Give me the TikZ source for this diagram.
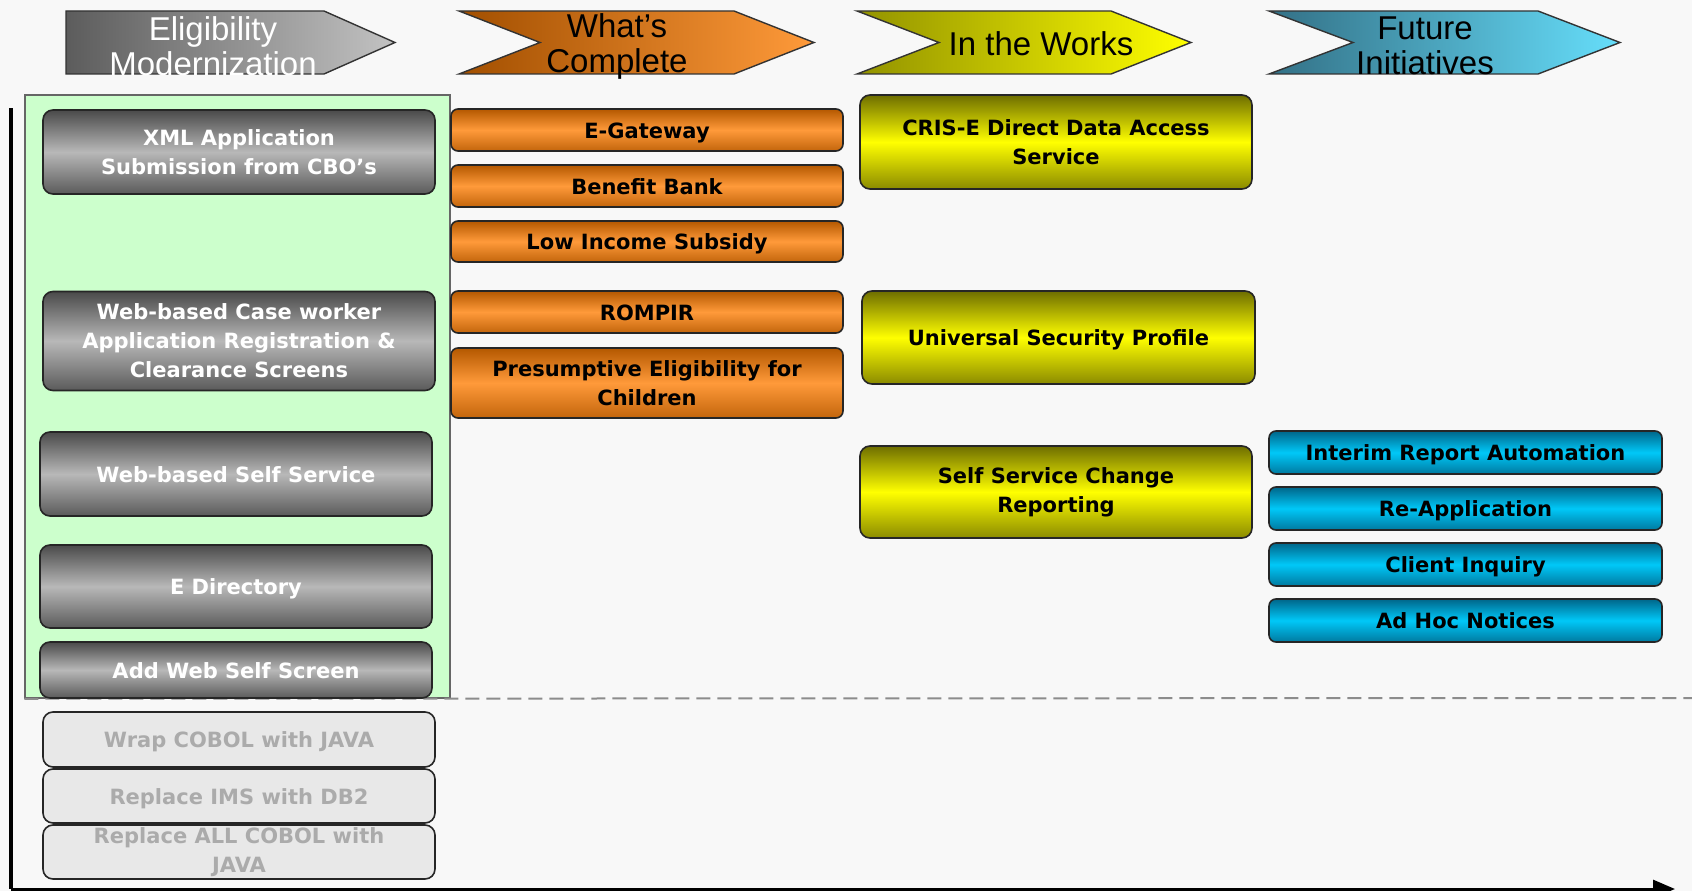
\documentclass[tikz,border=0pt]{standalone}
\usepackage{fontspec}
\setmainfont{Liberation Sans}
\newfontfamily\boxfont{DejaVu Sans}
\usetikzlibrary{arrows.meta}

\definecolor{paper}{HTML}{F8F8F8}
\definecolor{panelgreen}{HTML}{CCFFCC}
\definecolor{grayTop}{HTML}{4A4A4A}
\definecolor{grayMid}{HTML}{B8B8B8}
\definecolor{orangeTop}{HTML}{B45800}
\definecolor{orangeMid}{HTML}{FF9A3A}
\definecolor{yellowTop}{HTML}{6E6E00}
\definecolor{yellowMid}{HTML}{FFFF00}
\definecolor{cyanTop}{HTML}{00668A}
\definecolor{cyanMid}{HTML}{00C8F8}
\definecolor{oldFill}{HTML}{E8E8E8}
\definecolor{oldText}{HTML}{ABABAB}

\newlength{\px}
\setlength{\px}{1pt}

\begin{document}
\begin{tikzpicture}[x=\px,y=-\px,
  box/.style={rectangle,rounded corners=10\px,draw=black!85,line width=1.6\px,inner sep=0,align=center,font=\boxfont\bfseries\fontsize{21}{29}\selectfont},
  one line/.style={text height=16\px,text depth=0\px},
  gray box/.style={box,text=white,top color=grayTop,bottom color=grayTop!85!grayMid,middle color=grayMid},
  old box/.style={box,fill=oldFill,text=oldText},
  orange box/.style={box,one line,rounded corners=7\px,top color=orangeTop,bottom color=orangeTop!80!orangeMid,middle color=orangeMid},
  yellow box/.style={box,top color=yellowTop,bottom color=yellowTop!80!yellowMid,middle color=yellowMid},
  cyan box/.style={box,one line,rounded corners=7\px,top color=cyanTop,bottom color=cyanTop!80!cyanMid,middle color=cyanMid},
  chevron/.style={draw=black!80,line width=1.4\px},
  head/.style={align=center,inner sep=0,font=\fontsize{33}{35}\selectfont},
  panel/.style={rectangle,draw=black!60,line width=1.5\px,fill=panelgreen,inner sep=0},
  axis/.style={draw=black,line width=4\px}]
  \useasboundingbox (0,0) rectangle (1692,891);
  \fill[paper] (0,0) rectangle (1692,891);

  % column headings
  \path[chevron,left color=grayTop!90,right color=grayMid!85] (66,11) -- (324,11) -- (395,42.5) -- (324,74) -- (66,74) -- cycle;
  \path[chevron,left color=orangeTop!90!black,right color=orangeMid] (459,11) -- (734,11) -- (814,42.5) -- (734,74) -- (459,74) -- (540,42.5) -- cycle;
  \path[chevron,left color=yellowTop!75!yellowMid,right color=yellowMid] (857,11) -- (1111,11) -- (1191,42.5) -- (1111,74) -- (857,74) -- (939,42.5) -- cycle;
  \path[chevron,left color=cyanTop!60!gray,right color=cyanMid!60!white] (1269,11) -- (1538,11) -- (1620,42.5) -- (1538,74) -- (1269,74) -- (1353,42.5) -- cycle;
  \node[head,text=white] (h1) at (213,46) {Eligibility\\Modernization};
  \node[head] (h2) at (617,46) {What’s\\Complete};
  \node[head] (h3) at (1041,44) {In the Works};
  \node[head] (h4) at (1425,46) {Future\\Initiatives};

  % green panel and separator
  \node[panel,minimum width=425\px,minimum height=603\px] (root) at (237.5,396.5) {};
  \coordinate (cut) at (1692,698);
  \draw[draw=black!45,line width=2\px,dash pattern=on 14\px off 7\px] (root.south west) -- (cut);

  % eligibility modernization
  \node[gray box,minimum width=392\px,minimum height=84\px] (n1) at (239,152) {XML Application\\Submission from CBO’s};
  \node[gray box,minimum width=392\px,minimum height=99\px] (n2) at (239,341) {Web-based Case worker\\Application Registration \&\\Clearance Screens};
  \node[gray box,one line,minimum width=392\px,minimum height=84\px] (n3) at (236,474) {Web-based Self Service};
  \node[gray box,one line,minimum width=392\px,minimum height=83\px] (n4) at (236,586.5) {E Directory};
  \node[gray box,one line,minimum width=392\px,minimum height=56\px] (n5) at (236,670) {Add Web Self Screen};
  \node[old box,one line,minimum width=392\px,minimum height=55\px] (n6) at (239,739.5) {Wrap COBOL with JAVA};
  \node[old box,one line,minimum width=392\px,minimum height=54\px] (n7) at (239,796) {Replace IMS with DB2};
  \node[old box,minimum width=392\px,minimum height=54\px] (n8) at (239,852) {Replace ALL COBOL with\\JAVA};

  % what's complete
  \node[orange box,minimum width=392\px,minimum height=42\px] (n9) at (647,130) {E-Gateway};
  \node[orange box,minimum width=392\px,minimum height=42\px] (n10) at (647,186) {Benefit Bank};
  \node[orange box,minimum width=392\px,minimum height=41\px] (n11) at (647,241.5) {Low Income Subsidy};
  \node[orange box,minimum width=392\px,minimum height=42\px] (n12) at (647,312) {ROMPIR};
  \node[orange box,text height=,text depth=,minimum width=392\px,minimum height=70\px] (n13) at (647,383) {Presumptive Eligibility for\\Children};

  % in the works
  \node[yellow box,minimum width=392\px,minimum height=94\px] (n14) at (1056,142) {CRIS-E Direct Data Access\\Service};
  \node[yellow box,one line,minimum width=393\px,minimum height=93\px] (n15) at (1058.5,337.5) {Universal Security Profile};
  \node[yellow box,minimum width=392\px,minimum height=92\px] (n16) at (1056,492) {Self Service Change\\Reporting};

  % future initiatives
  \node[cyan box,minimum width=393\px,minimum height=43\px] (n17) at (1465.5,452.5) {Interim Report Automation};
  \node[cyan box,minimum width=393\px,minimum height=43\px] (n18) at (1465.5,508.5) {Re-Application};
  \node[cyan box,minimum width=393\px,minimum height=43\px] (n19) at (1465.5,564.5) {Client Inquiry};
  \node[cyan box,minimum width=393\px,minimum height=43\px] (n20) at (1465.5,620.5) {Ad Hoc Notices};

  % time axis
  \coordinate (top) at (11,108);
  \coordinate (origin) at (11,889);
  \coordinate (far) at (1675,889);
  \draw[axis] (top) -- (origin);
  \draw[axis,line width=3pt,-{Triangle[length=22pt,width=18pt]}] (origin) -- (far);
\end{tikzpicture}
\end{document}
